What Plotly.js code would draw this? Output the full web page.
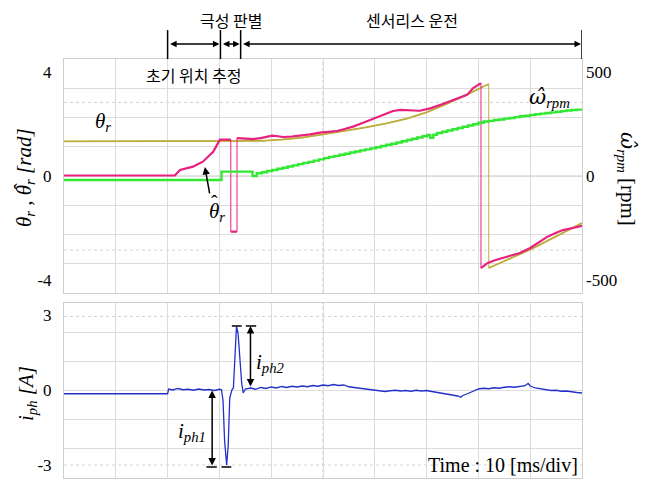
<!DOCTYPE html>
<html>
<head>
<meta charset="utf-8">
<script src="https://cdn.plot.ly/plotly-3.0.1.min.js"></script>
<style>html,body{margin:0;padding:0;background:#fff;}#chart{width:651px;height:481px;}</style>
</head>
<body>
<div id="chart"></div>
<script>
// ---- data (time in ms, 10 ms/div) ----
const tTheta = [0, 34, 38, 42, 46, 50, 54, 58, 62, 66, 70, 74, 78, 82, 82, 86, 90.2, 95, 100];
const theta  = [1.33, 1.33, 1.35, 1.40, 1.48, 1.60, 1.72, 1.86, 2.01, 2.20, 2.45, 2.78, 3.15, 3.54, -3.54, -3.18, -2.81, -2.32, -1.81];

const tThetaHat = [0, 21.4, 22.4, 23.5, 24.9, 26.8, 28.8, 30.1, 32.2, 32.2, 33.4, 33.4, 35, 36.5, 38, 39.2, 40.2, 41.3, 42.3, 44, 45.6, 47.5,
  49.4, 51.4, 52.7, 54.2, 55.8, 57.5, 59.1, 61.3, 63.5, 65, 66.2, 67.5, 68.7, 70.7, 73, 75.1, 76.5, 77.8, 79, 80.5,
  80.5, 81.7, 83.2, 84.7, 86.3, 88, 90, 91.6, 93.2, 94.8, 96.3, 98.2, 100];
const thetaHat = [0.02, 0.02, 0.23, 0.30, 0.36, 0.55, 0.93, 1.40, 1.40, -2.14, -2.14, 1.46, 1.44, 1.42, 1.46, 1.50, 1.55, 1.53, 1.50, 1.52, 1.55, 1.60,
  1.67, 1.69, 1.73, 1.81, 1.90, 2.03, 2.15, 2.34, 2.50, 2.54, 2.54, 2.52, 2.51, 2.60, 2.76, 2.92, 3.02, 3.12, 3.38, 3.57,
  -3.54, -3.35, -3.24, -3.15, -3.06, -2.96, -2.77, -2.55, -2.35, -2.20, -2.08, -2.00, -1.92];

const tSpeed = [0, 30.4, 36.4, 37.2, 38.2, 39.2, 40.2, 41.2, 42.2, 43.2, 44.2, 45.2, 46.2, 47.2, 48.2, 49.2, 50.2, 51.2, 52.2, 53.2, 54.2, 55.2,
  56.2, 57.2, 58.2, 59.2, 60.2, 61.2, 62.2, 63.2, 64.2, 65.2, 66.2, 67.2, 68.2, 69.2, 70.1,
  70.7, 71.3, 72, 73, 74, 75, 76, 77, 78, 79, 80, 81, 82, 83, 84, 85, 86, 87, 88, 89, 90, 91, 92, 93, 94, 95, 96, 97, 98, 99, 100];
const speedHat = [-19, 21, 0, 13, 18, 24, 29, 35, 40, 46, 51, 57, 63, 68, 74, 80, 86, 92, 97, 102, 107, 113,
  118, 123, 128, 133, 138, 144, 150, 155, 161, 167, 173, 179, 185, 191, 197,
  184, 198, 207, 213, 219, 225, 231, 237, 243, 249, 256, 262, 265, 269, 272, 276, 279, 283, 287, 290, 294, 297, 300, 303, 306, 309, 312, 315, 317, 319, 321];

const tCurrent = [0, 20, 20.2, 21, 22, 23, 24, 25, 26, 27, 28, 29, 30, 30.4, 30.7, 31.0, 31.4, 31.7, 32.0, 32.4, 32.7, 33.0, 33.3, 33.6, 34.0, 34.3, 34.6,
  35, 36, 37, 38, 39, 40, 41, 42, 43, 44, 45, 46, 47, 48, 49, 50, 51, 52, 53, 54, 55, 56, 57, 58, 59, 60,
  61, 62, 63, 64, 65, 66, 67, 68, 69, 70, 71, 72, 73, 74, 75, 76, 76.6, 77, 78, 79, 80, 81, 82, 83, 84, 85,
  86, 87, 88, 89, 89.6, 90, 91, 92, 93, 94, 95, 96, 97, 98, 99, 100];
const current = [-0.13, -0.13, 0.06, 0.02, 0.08, 0.03, 0.05, 0.01, 0.06, 0.02, 0.04, 0.00, 0.05, 0.03, -0.40, -2.00, -2.98, -2.20, -0.30, 0.02, 0.10, 1.60, 2.56, 2.30, 1.00, 0.30, -0.10,
  0.06, 0.10, 0.05, 0.12, 0.08, 0.14, 0.10, 0.16, 0.12, 0.17, 0.14, 0.18, 0.15, 0.20, 0.17, 0.22, 0.19, 0.24, 0.20, 0.22, 0.15, 0.12, 0.09, 0.07, 0.04, 0.02,
  0.00, -0.04, -0.01, 0.01, -0.02, 0.00, -0.03, 0.01, -0.02, 0.00, -0.04, -0.08, -0.10, -0.13, -0.18, -0.22, -0.27, -0.20, -0.12, -0.02, 0.06, 0.09, 0.07, 0.11, 0.09, 0.13,
  0.15, 0.13, 0.17, 0.19, 0.28, 0.18, 0.10, 0.06, 0.04, 0.00, 0.01, -0.03, -0.02, -0.06, -0.08, -0.10];

const yTicksTheta = [-4, 0, 4];
const yTicksSpeed = [-500, 0, 500];
const yTicksCurrent = [-3, 0, 3];
const phaseMarks = [20, 30.2, 34.1, 100];
const phaseLabels = ['초기 위치 추정', '극성 판별', '센서리스 운전'];

// split thick line at vertical jumps (equal consecutive times)
function gapAtJumps(t, v) {
  const xs = [], ys = [];
  for (let i = 0; i < t.length; i++) {
    if (i > 0 && t[i] === t[i - 1]) { xs.push(null); ys.push(null); }
    xs.push(t[i]); ys.push(v[i]);
  }
  return {x: xs, y: ys};
}

const OLIVE = '#bcae3c', MAG = '#e8207e', GREEN = '#33e833', BLUE = '#2230c8';
const thA = gapAtJumps(tTheta, theta), thH = gapAtJumps(tThetaHat, thetaHat);

const traces = [
  {x: tTheta, y: theta, type: 'scatter', mode: 'lines', line: {color: OLIVE, width: 1}, xaxis: 'x', yaxis: 'y', hoverinfo: 'skip'},
  {x: thA.x, y: thA.y, type: 'scatter', mode: 'lines', line: {color: OLIVE, width: 1.8}, xaxis: 'x', yaxis: 'y'},
  {x: tSpeed, y: speedHat, type: 'scatter', mode: 'lines', line: {color: GREEN, width: 2.4, shape: 'hv'}, xaxis: 'x', yaxis: 'y3'},
  {x: tThetaHat, y: thetaHat, type: 'scatter', mode: 'lines', line: {color: MAG, width: 1}, xaxis: 'x', yaxis: 'y', hoverinfo: 'skip'},
  {x: thH.x, y: thH.y, type: 'scatter', mode: 'lines', line: {color: MAG, width: 2.2}, xaxis: 'x', yaxis: 'y'},
  {x: tCurrent, y: current, type: 'scatter', mode: 'lines', line: {color: BLUE, width: 1.3}, xaxis: 'x2', yaxis: 'y2'}
];

const GRID = '#dcdcdc', BORDER = '#cfcfcf';
const SERIF = 'Liberation Serif';
const tickFont = () => ({family: SERIF, size: 17, color: '#000'});
const xBase = () => ({range: [0, 100], tick0: 0, dtick: 10, showticklabels: false, ticks: '', showgrid: true, gridcolor: GRID,
  zeroline: false, showline: true, mirror: true, linecolor: BORDER, linewidth: 1});

const layout = {
  width: 651, height: 481, showlegend: false,
  font: {family: SERIF, size: 17, color: '#000'},
  margin: {l: 64, r: 69, t: 59, b: 3},
  paper_bgcolor: '#fff', plot_bgcolor: '#fff',
  xaxis: Object.assign(xBase(), {anchor: 'y', domain: [0, 1]}),
  xaxis2: Object.assign(xBase(), {anchor: 'y2', domain: [0, 1]}),
  yaxis: {domain: [0.4415, 1], range: [-4.5, 4.5], tickmode: 'array', tickvals: yTicksTheta, ticktext: yTicksTheta.map(String),
    ticks: '', ticklabelstandoff: 8, tickfont: tickFont(), showgrid: false, zeroline: false, showline: true, mirror: true, linecolor: BORDER,
    minor: {tick0: -4.5, dtick: 1.125, showgrid: true, gridcolor: GRID, ticks: ''}},
  yaxis3: {overlaying: 'y', side: 'right', anchor: 'x', range: [-562.5, 562.5], tickmode: 'array', tickvals: yTicksSpeed,
    ticktext: yTicksSpeed.map(String), ticks: '', ticklabelstandoff: 3, tickfont: tickFont(), showgrid: false, zeroline: false, showline: false},
  yaxis2: {domain: [0, 0.4177], range: [-3.5, 3.5], tickmode: 'array', tickvals: yTicksCurrent, ticktext: yTicksCurrent.map(String),
    ticks: '', ticklabelstandoff: 8, tickfont: tickFont(), showgrid: false, zeroline: false, showline: true, mirror: true, linecolor: BORDER,
    minor: {tick0: -3.5, dtick: 7 / 6, showgrid: true, gridcolor: GRID, ticks: ''}},
  shapes: [],
  annotations: []
};

// oscilloscope centre lines and dotted cursor rows
const S = layout.shapes;
S.push({type: 'line', xref: 'x', yref: 'y', x0: 0, x1: 100, y0: 0, y1: 0, line: {color: '#c8c8c8', width: 1}, layer: 'below'});
S.push({type: 'line', xref: 'x2', yref: 'y2', x0: 0, x1: 100, y0: 0, y1: 0, line: {color: '#c8c8c8', width: 1}, layer: 'below'});
S.push({type: 'line', xref: 'x', yref: 'y', x0: 50, x1: 50, y0: -4.5, y1: 4.5, line: {color: '#c0c0c0', width: 1, dash: 'dot'}, layer: 'below'});
S.push({type: 'line', xref: 'x2', yref: 'y2', x0: 50, x1: 50, y0: -3.5, y1: 3.5, line: {color: '#c0c0c0', width: 1, dash: 'dot'}, layer: 'below'});
[2.83, -2.85].forEach(v => S.push({type: 'line', xref: 'x', yref: 'y', x0: 0, x1: 100, y0: v, y1: v, line: {color: '#d4d4d4', width: 1, dash: 'dot'}, layer: 'below'}));
[2.96, -2.98].forEach(v => S.push({type: 'line', xref: 'x2', yref: 'y2', x0: 0, x1: 100, y0: v, y1: v, line: {color: '#d4d4d4', width: 1, dash: 'dot'}, layer: 'below'}));

// phase marker bars above the plot
phaseMarks.forEach(t => S.push({type: 'line', xref: 'x', yref: 'paper', x0: t, x1: t, y0: 1.0, y1: 1.069, line: {color: '#000', width: 1.5}}));

const A = layout.annotations;
const py = Y => (478 - Y) / 419;   // pixel row -> paper
const pxp = X => (X - 64) / 518;   // pixel column -> paper
for (let i = 0; i < phaseMarks.length - 1; i++) {
  A.push({x: phaseMarks[i + 1], y: py(44), xref: 'x', yref: 'paper', ax: phaseMarks[i], ay: 0, axref: 'x', ayref: 'pixel',
    text: '', showarrow: true, arrowhead: 2, startarrowhead: 2, arrowside: 'end+start', arrowsize: 1, arrowwidth: 1.3, arrowcolor: '#000',
    standoff: 1, startstandoff: 1});
}
const kfont = {family: 'Noto Sans CJK KR', size: 16, color: '#000'};
A.push({x: pxp(193.5), y: py(75), xref: 'paper', yref: 'paper', text: phaseLabels[0], showarrow: false, font: kfont, xanchor: 'center', yanchor: 'middle'});
A.push({x: pxp(231), y: py(20), xref: 'paper', yref: 'paper', text: phaseLabels[1], showarrow: false, font: kfont, xanchor: 'center', yanchor: 'middle'});
A.push({x: pxp(412), y: py(20), xref: 'paper', yref: 'paper', text: phaseLabels[2], showarrow: false, font: kfont, xanchor: 'center', yanchor: 'middle'});

// hatted omega drawn in a font that carries the combining circumflex
const HAT = s => '<span style="font-family:DejaVu Serif">' + s + '\u0302</span>';
const hatFont = {family: SERIF, size: 20, color: '#000'};

// axis titles
const tfont = {family: SERIF, size: 21, color: '#000'};
A.push({x: pxp(25), y: py(178), xref: 'paper', yref: 'paper', textangle: -90, showarrow: false, font: tfont,
  text: '<i>θ<sub>r</sub> , θ<sub>r</sub> [rad]</i>', xanchor: 'center', yanchor: 'middle'});
// circumflex over the second theta of the rotated title
A.push({x: pxp(25), y: py(187), xref: 'paper', yref: 'paper', textangle: -90, showarrow: false, font: hatFont,
  text: 'ˆ', xanchor: 'center', yanchor: 'middle', xshift: -3});
A.push({x: pxp(627), y: py(179), xref: 'paper', yref: 'paper', textangle: 90, showarrow: false, font: tfont,
  text: '<i>' + HAT('ω') + '<sub>rpm</sub></i> [rpm]', xanchor: 'center', yanchor: 'middle'});
A.push({x: pxp(27), y: py(394), xref: 'paper', yref: 'paper', textangle: -90, showarrow: false, font: tfont,
  text: '<i>i<sub>ph</sub> [A]</i>', xanchor: 'center', yanchor: 'middle'});
A.push({x: pxp(503), y: py(465), xref: 'paper', yref: 'paper', showarrow: false,
  font: {family: SERIF, size: 20, color: '#000'}, text: 'Time : 10 [ms/div]', xanchor: 'center', yanchor: 'middle'});

// trace labels
const lfont = {family: SERIF, size: 21, color: '#000'};
A.push({x: 7.5, y: 2.08, xref: 'x', yref: 'y', text: '<i>θ<sub>r</sub></i>', showarrow: false, font: lfont});
A.push({x: 29.5, y: -1.38, xref: 'x', yref: 'y', text: '<i>θ<sub>r</sub></i>', showarrow: false, font: lfont});
A.push({x: 29.5, y: -1.38, xref: 'x', yref: 'y', text: 'ˆ', showarrow: false, font: hatFont, xshift: -2, yshift: 9});
A.push({x: 27.2, y: 0.35, xref: 'x', yref: 'y', ax: 5, ay: 28, text: '', showarrow: true, arrowhead: 2, arrowsize: 1, arrowwidth: 1.5, arrowcolor: '#000'});
A.push({x: 93.8, y: 3.0, xref: 'x', yref: 'y', text: '<i>' + HAT('ω') + '<sub>rpm</sub></i>', showarrow: false, font: lfont});
A.push({x: 39.8, y: 1.1, xref: 'x2', yref: 'y2', text: '<i>i<sub>ph2</sub></i>', showarrow: false, font: lfont});
A.push({x: 24.7, y: -1.66, xref: 'x2', yref: 'y2', text: '<i>i<sub>ph1</sub></i>', showarrow: false, font: lfont});

// current amplitude double arrows with caps
A.push({x: 28.6, y: 0.0, xref: 'x2', yref: 'y2', ax: 28.6, ay: -3.06, axref: 'x2', ayref: 'y2', text: '', showarrow: true,
  arrowhead: 2, startarrowhead: 2, arrowside: 'end+start', arrowsize: 1, arrowwidth: 1.5, arrowcolor: '#000', standoff: 0, startstandoff: 0});
A.push({x: 36.0, y: 2.58, xref: 'x2', yref: 'y2', ax: 36.0, ay: 0.1, axref: 'x2', ayref: 'y2', text: '', showarrow: true,
  arrowhead: 2, startarrowhead: 2, arrowside: 'end+start', arrowsize: 1, arrowwidth: 1.5, arrowcolor: '#000', standoff: 0, startstandoff: 0});
[[27.5, 29.5, -3.06], [30.4, 32.3, -3.06], [32.4, 34.3, 2.58], [35.1, 37.1, 2.58]].forEach(c =>
  S.push({type: 'line', xref: 'x2', yref: 'y2', x0: c[0], x1: c[1], y0: c[2], y1: c[2], line: {color: '#000', width: 1.5}}));

Plotly.newPlot('chart', traces, layout, {displayModeBar: false, staticPlot: true});
</script>
</body>
</html>
